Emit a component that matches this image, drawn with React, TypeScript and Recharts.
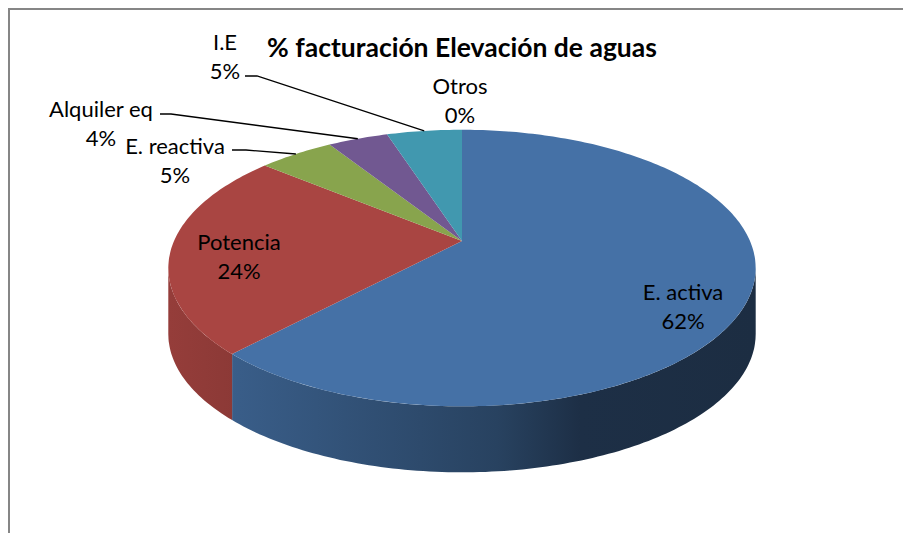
import { PieChart, Pie } from "recharts";

const W = 903;
const H = 533;

const categories = ["E. activa", "Potencia", "E. reactiva", "Alquiler eq", "I.E", "Otros"];
const shares = [62, 24, 5, 4, 5, 0];
const COLORS = ["#4571a6", "#a94542", "#88a44d", "#715891", "#4198af", "#db843d"];

const data = categories.map((name, i) => ({ name, value: shares[i] }));

// fake 3D pie: tilted disc seen in perspective
const CX = 462; // projected centre of the disc
const CY = 241;
const A = 288;
const B = 133;
const K = 0.1955; // perspective strength
const DEPTH = 66;
const PHI_R = (Math.acos(-K) * 180) / Math.PI; // right silhouette
const PHI_L = 360 - PHI_R; // left silhouette

// where each label sits, [x, y] of first line centre, optional leader start
const LABEL_POS: Record<string, { x: number; y: number; lead?: [number, number, number] }> = {
  "E. activa": { x: 683, y: 293 },
  Potencia: { x: 239, y: 243 },
  "E. reactiva": { x: 175, y: 147, lead: [232, 150, 246] },
  "Alquiler eq": { x: 101, y: 110, lead: [160, 114, 171] },
  "I.E": { x: 225, y: 43, lead: [245, 76, 257] },
  Otros: { x: 460, y: 87 },
};

function rim(phi: number): [number, number] {
  const r = (phi * Math.PI) / 180;
  const w = 1 + K * Math.cos(r);
  return [CX + (A * Math.sin(r)) / w, CY - (B * Math.cos(r)) / w];
}

function arc(a: number, b: number) {
  const n = Math.max(2, Math.ceil(Math.abs(b - a)));
  const pts: [number, number][] = [];
  for (let i = 0; i <= n; i++) pts.push(rim(a + ((b - a) * i) / n));
  return pts;
}

function shade(hex: string, f: number) {
  const v = parseInt(hex.slice(1), 16);
  const c = [(v >> 16) & 255, (v >> 8) & 255, v & 255].map((x) => Math.round(x * f));
  return `rgb(${c.join(",")})`;
}

// eslint-disable-next-line @typescript-eslint/no-explicit-any
const renderSlice = (props: any) => {
  const { startAngle, endAngle, index, percent } = props;
  const a = 90 - startAngle;
  const b = 90 - endAngle;
  const color = COLORS[index % COLORS.length];
  const name = categories[index];
  const pos = LABEL_POS[name];

  const top = arc(a, b);
  const topPath =
    `M${CX},${CY} ` + top.map(([x, y]) => `L${x.toFixed(1)},${y.toFixed(1)}`).join(" ") + " Z";

  let sidePath = "";
  const sa = Math.max(a, PHI_R);
  const sb = Math.min(b, PHI_L);
  if (sb > sa) {
    const up = arc(sa, sb);
    const down = up.map(([x, y]) => [x, y + DEPTH]).reverse();
    sidePath =
      "M" +
      up.map(([x, y]) => `${x.toFixed(1)},${y.toFixed(1)}`).join(" L") +
      " L" +
      down.map(([x, y]) => `${x.toFixed(1)},${y.toFixed(1)}`).join(" L") +
      " Z";
  }

  const mid = rim((a + b) / 2);
  const pct = `${Math.round(percent * 100)}%`;

  return (
    <g key={`slice-${index}`}>
      <defs>
        <linearGradient id={`side-${index}`} gradientUnits="userSpaceOnUse" x1={169} y1={0} x2={756} y2={0}>
          <stop offset="0" stopColor={shade(color, 0.88)} />
          <stop offset="0.12" stopColor={shade(color, 0.82)} />
          <stop offset="0.56" stopColor={shade(color, 0.58)} />
          <stop offset="0.7" stopColor={shade(color, 0.42)} />
          <stop offset="1" stopColor={shade(color, 0.4)} />
        </linearGradient>
      </defs>
      {sidePath && <path d={sidePath} fill={`url(#side-${index})`} stroke="none" />}
      {b > a && <path d={topPath} fill={color} stroke="none" />}
      {pos && pos.lead && (
        <polyline
          points={`${pos.lead[0]},${pos.lead[1]} ${pos.lead[2]},${pos.lead[1]} ${mid[0]},${mid[1]}`}
          fill="none"
          stroke="#000"
          strokeWidth={1.3}
        />
      )}
      {pos && (
        <text
          textAnchor="middle"
          fontFamily="Lato, 'Open Sans', sans-serif"
          fontSize={22}
          fill="#000"
        >
          <tspan x={pos.x} y={pos.y + 7}>
            {name}
          </tspan>
          <tspan x={pos.x} y={pos.y + 36}>
            {pct}
          </tspan>
        </text>
      )}
    </g>
  );
};

export default function App() {
  return (
    <div style={{ position: "relative", width: W, height: H, overflow: "hidden", background: "#fff" }}>
      <style>{"body{margin:0}"}</style>
      <div
        style={{
          position: "absolute",
          left: 8,
          top: 8,
          width: W,
          height: H,
          border: "2px solid #868686",
        }}
      />
      <div style={{ position: "absolute", left: 0, top: 0 }}>
        <PieChart width={W} height={H} margin={{ top: 0, right: 0, bottom: 0, left: 0 }}>
          <Pie
            data={data}
            dataKey="value"
            nameKey="name"
            cx={CX}
            cy={CY}
            outerRadius={120}
            startAngle={90}
            endAngle={-270}
            fill="transparent"
            stroke="none"
            label={renderSlice}
            labelLine={false}
            isAnimationActive={false}
          />
        </PieChart>
      </div>
      <div
        style={{
          position: "absolute",
          left: 0,
          width: 924,
          top: 30,
          textAlign: "center",
          fontFamily: "Lato, 'Open Sans', sans-serif",
          fontWeight: 700,
          fontSize: 26.5,
          lineHeight: "34px",
          color: "#000",
          whiteSpace: "nowrap",
        }}
      >
        % facturación Elevación de aguas
      </div>
    </div>
  );
}
